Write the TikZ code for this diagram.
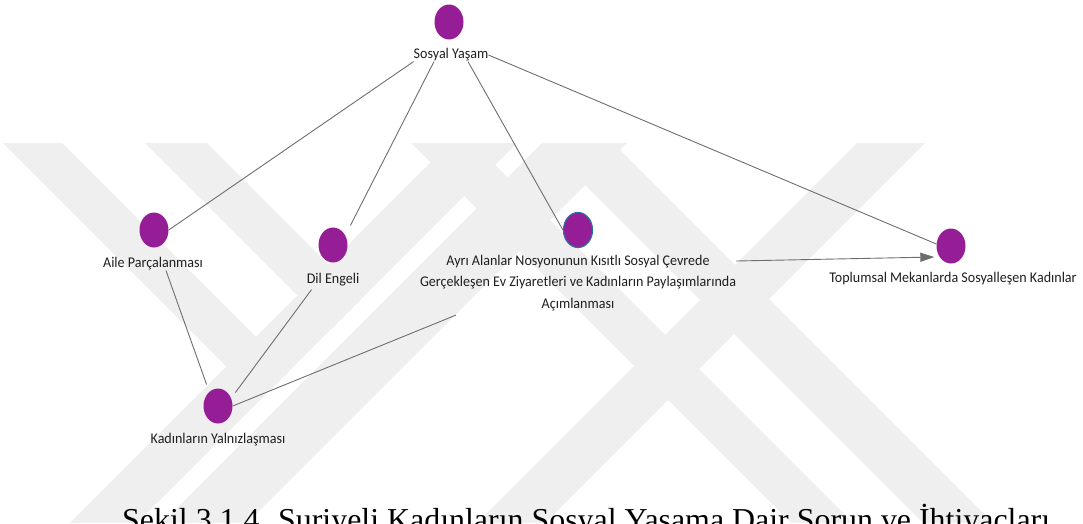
\documentclass[tikz,border=0pt]{standalone}
\usepackage{fontspec}
\setmainfont{Liberation Serif}
\newfontfamily\lblfont[FakeStretch=0.95]{Carlito}
\usetikzlibrary{arrows.meta,shapes.geometric}
\definecolor{dotpurple}{HTML}{951E96}
\definecolor{dotblue}{HTML}{2E6DA4}
\definecolor{wmgray}{HTML}{EFEFEF}
\definecolor{linegray}{HTML}{6E6E6E}
\begin{document}
\begin{tikzpicture}[x=1pt,y=-1pt,
  wm/.style={fill=wmgray},
  dot/.style={ellipse, fill=dotpurple, minimum width=29pt, minimum height=35pt, inner sep=0pt},
  lbl/.style={font=\lblfont\fontsize{14.8}{21.5}\selectfont, inner sep=0pt, text=black!88},
  conn/.style={draw=linegray, line width=0.9pt},
]
\useasboundingbox (0,0) rectangle (1083,523);
\clip (0,0) rectangle (1083,523);
% watermark
\fill[wm] (3,143) -- (62,143) -- (289.5,370.5) -- (260,400) -- cycle;
\fill[wm] (145,143) -- (207,143) -- (362,298) -- (331,329) -- cycle;
\fill[wm] (450,143) -- (517,143) -- (137,523) -- (70,523) -- cycle;
\fill[wm] (542,143) -- (627,143) -- (247,523) -- (162,523) -- cycle;
\fill[wm] (857,143) -- (925,143) -- (545,523) -- (477,523) -- cycle;
\fill[wm] (411,143) -- (473,143) -- (853,523) -- (791,523) -- cycle;
\fill[wm] (543,143) -- (613,143) -- (993,523) -- (923,523) -- cycle;
% nodes
\node[dot] (sos) at (449,22) {};
\node[lbl] (sosL) at (451,55) {Sosyal Yaşam};
\node[dot] (aile) at (154,230) {};
\node[lbl] (aileL) at (153,264) {Aile Parçalanması};
\node[dot] (dil) at (333,245) {};
\node[lbl] (dilL) at (333,280) {Dil Engeli};
\node[dot] (kad) at (218,406) {};
\node[lbl] (kadL) at (218,440) {Kadınların Yalnızlaşması};
\node[dot, draw=dotblue, line width=1.2pt] (ayri) at (578,230) {};
\node[lbl, align=center] (ayriL) at (578,283) {Ayrı Alanlar Nosyonunun Kısıtlı Sosyal Çevrede\\Gerçekleşen Ev Ziyaretleri ve Kadınların Paylaşımlarında\\Açımlanması};
\node[dot] (top) at (951,246) {};
\node[lbl] (topL) at (953,279) {Toplumsal Mekanlarda Sosyalleşen Kadınlar};
% connectors
\draw[conn] (sosL.south west) -- (aile.east);
\draw[conn] ([xshift=-17pt]sosL.south) -- ([shift={(7pt,7pt)}]dil.north east);
\draw[conn] ([xshift=17pt]sosL.south) -- (ayri.west);
\draw[conn] (sosL.east) -- ([yshift=2pt]top.west);
\draw[conn, -{Triangle[length=14pt,width=9pt]}] ([yshift=22pt]ayriL.east) -- ([shift={(-2pt,-11pt)}]top.west);
\draw[conn] ([xshift=13pt]aileL.south) -- ([shift={(-1pt,9pt)}]kad.north west);
\draw[conn] ([xshift=5pt,yshift=-3pt]dilL.south west) -- ([shift={(7pt,1pt)}]kad.north east);
\draw[conn] ([xshift=-122pt,yshift=-4pt]ayriL.south) -- (kad.east);
% caption
\node[anchor=base west, inner sep=0pt, font=\fontsize{31.9}{36}\selectfont] (cap) at (122,530) {Şekil 3.1.4. Suriyeli Kadınların Sosyal Yaşama Dair Sorun ve İhtiyaçları};
\end{tikzpicture}
\end{document}
